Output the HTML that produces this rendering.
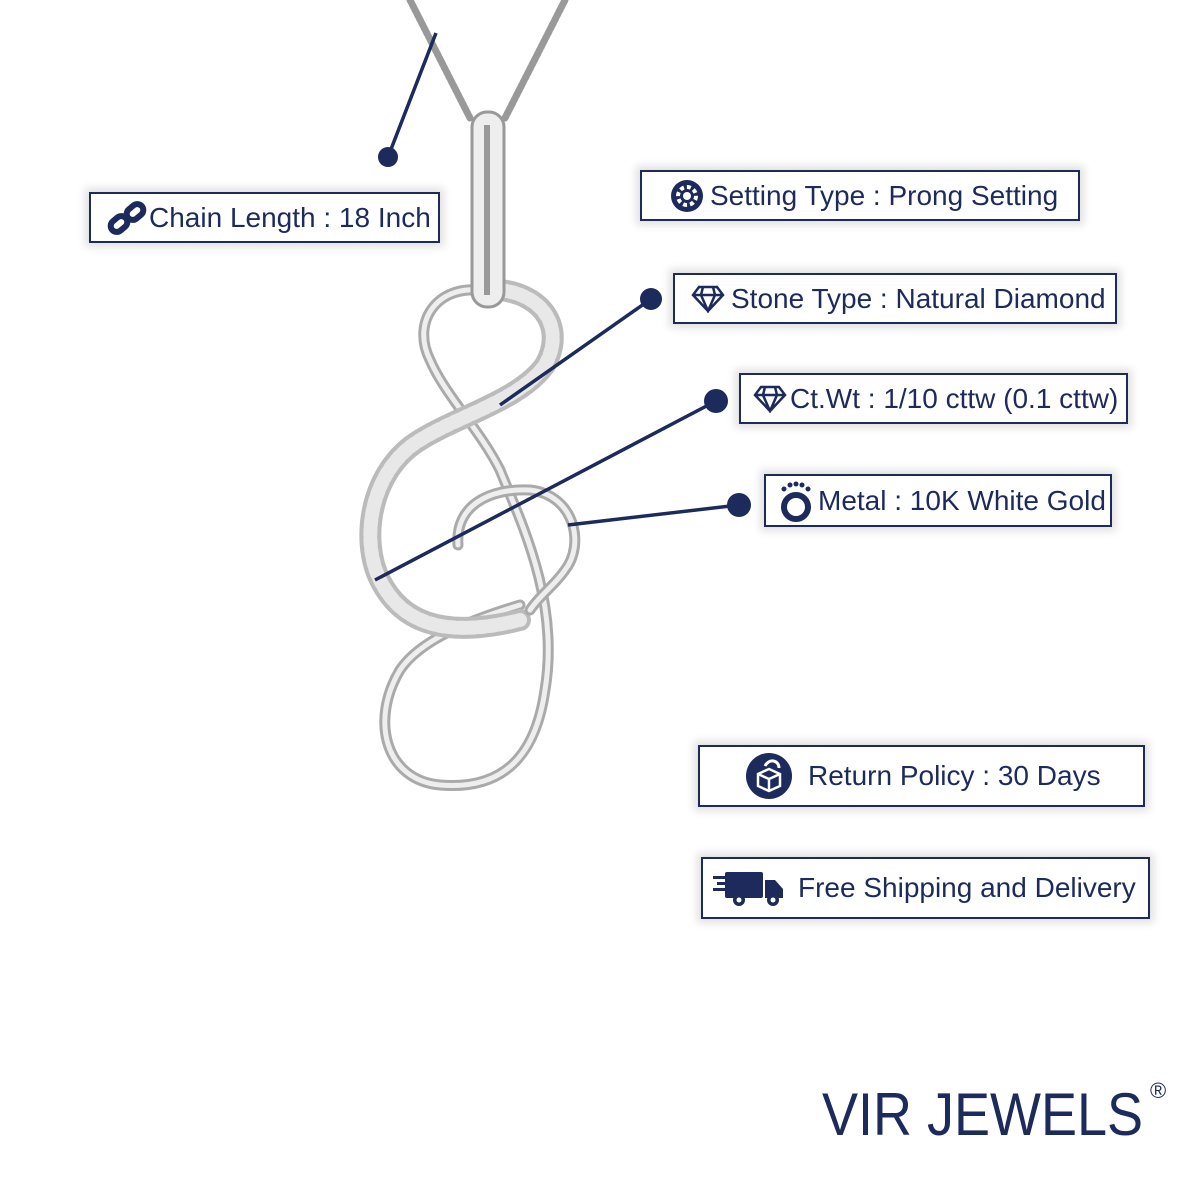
<!DOCTYPE html>
<html><head><meta charset="utf-8"><style>
html,body{margin:0;padding:0;background:#fff}
body{width:1200px;height:1200px;position:relative;overflow:hidden;font-family:"Liberation Sans",sans-serif;color:#1c2a5c}
.b{position:absolute;border:2px solid #1c2a5c;background:#fff;box-shadow:0 0 8px 4px rgba(0,0,0,0.12);box-sizing:border-box;display:flex;align-items:center;font-size:28px;white-space:nowrap}
.b svg{flex:none}
</style></head><body>
<svg width="1200" height="1200" style="position:absolute;left:0;top:0">
<g fill="none" stroke-linecap="round">
<path d="M410 0 L470 118" stroke="#999" stroke-width="7" stroke-dasharray="3 2"/>
<path d="M565 0 L505 118" stroke="#999" stroke-width="7" stroke-dasharray="3 2"/>
<path d="M490 292 C440 280 410 320 430 360 C445 395 480 430 500 470 C520 520 560 600 545 690 C535 760 500 790 440 785 C385 780 370 720 400 670 C420 640 470 620 520 605" stroke="#aaa" stroke-width="11"/>
<path d="M490 292 C440 280 410 320 430 360 C445 395 480 430 500 470 C520 520 560 600 545 690 C535 760 500 790 440 785 C385 780 370 720 400 670 C420 640 470 620 520 605" stroke="#eee" stroke-width="5"/>
<path d="M500 290 C545 295 565 330 545 365 C520 400 460 415 420 440 C370 470 360 540 380 580 C400 620 440 640 520 620" stroke="#bbb" stroke-width="22"/>
<path d="M500 290 C545 295 565 330 545 365 C520 400 460 415 420 440 C370 470 360 540 380 580 C400 620 440 640 520 620" stroke="#e8e8e8" stroke-width="14" stroke-dasharray="6 4"/>
<path d="M458 545 C455 505 490 488 530 490 C575 495 585 545 565 570 C555 585 540 595 530 610" stroke="#aaa" stroke-width="11"/>
<path d="M458 545 C455 505 490 488 530 490 C575 495 585 545 565 570 C555 585 540 595 530 610" stroke="#eee" stroke-width="5"/>
</g>
<rect x="472" y="112" width="32" height="195" rx="15" fill="#eee" stroke="#999" stroke-width="3"/>
<rect x="484" y="125" width="6" height="170" fill="#999"/>
<g stroke="#1c2a5c" stroke-width="3.5" fill="#1c2a5c">
<line x1="388" y1="157" x2="436" y2="33"/><circle cx="388" cy="157" r="10" stroke="none"/>
<line x1="651" y1="299" x2="500" y2="405"/><circle cx="651" cy="299" r="11" stroke="none"/>
<line x1="716" y1="401" x2="375" y2="580"/><circle cx="716" cy="401" r="12" stroke="none"/>
<line x1="739" y1="505" x2="568" y2="525"/><circle cx="739" cy="505" r="12" stroke="none"/>
</g>
</svg>

<div class="b" style="left:89px;top:192px;width:351px;height:51px;padding-left:16px">
<svg width="42" height="34" viewBox="0 0 42 34"><g fill="none" stroke="#1c2a5c" stroke-width="6"><rect x="3" y="17" width="18" height="12" rx="6" transform="rotate(-40 12 23)"/><rect x="19" y="5" width="18" height="12" rx="6" transform="rotate(-40 28 11)"/></g></svg>
<span>Chain Length : 18 Inch</span></div>

<div class="b" style="left:640px;top:170px;width:440px;height:51px;padding-left:28px">
<svg width="34" height="34" viewBox="0 0 34 34"><circle cx="17" cy="17" r="16" fill="#1c2a5c"/><circle cx="17" cy="17" r="9" fill="none" stroke="#fff" stroke-width="4" stroke-dasharray="4 3"/><circle cx="17" cy="17" r="4" fill="#fff"/></svg>
<span style="margin-left:6px">Setting Type : Prong Setting</span></div>

<div class="b" style="left:673px;top:273px;width:444px;height:51px;padding-left:16px">
<svg width="34" height="28" viewBox="0 0 34 28"><path d="M8 2H26L32 10L17 26L2 10Z M2 10H32 M12 2L10 10L17 26L24 10L22 2" fill="none" stroke="#1c2a5c" stroke-width="2.5"/></svg>
<span style="margin-left:6px">Stone Type : Natural Diamond</span></div>

<div class="b" style="left:739px;top:373px;width:389px;height:51px;padding-left:12px">
<svg width="34" height="28" viewBox="0 0 34 28"><path d="M8 2H26L32 10L17 26L2 10Z M2 10H32 M12 2L10 10L17 26L24 10L22 2" fill="none" stroke="#1c2a5c" stroke-width="2.5"/></svg>
<span style="margin-left:3px">Ct.Wt : 1/10 cttw (0.1 cttw)</span></div>

<div class="b" style="left:764px;top:474px;width:348px;height:53px;padding-left:8px">
<svg width="44" height="44" viewBox="0 0 44 44"><circle cx="22" cy="28" r="12" fill="none" stroke="#1c2a5c" stroke-width="6"/><g fill="#1c2a5c"><circle cx="10" cy="10" r="2.5"/><circle cx="16" cy="6" r="2.5"/><circle cx="22" cy="5" r="2.5"/><circle cx="28" cy="6" r="2.5"/><circle cx="34" cy="10" r="2.5"/></g></svg>
<span style="margin-left:0px">Metal : 10K White Gold</span></div>

<div class="b" style="left:698px;top:745px;width:447px;height:62px;padding-left:45px">
<svg width="48" height="48" viewBox="0 0 48 48"><circle cx="24" cy="24" r="23" fill="#1c2a5c"/><path d="M13 22L24 17L35 22V34L24 39L13 34Z M13 22L24 27L35 22 M24 27V39" fill="none" stroke="#fff" stroke-width="2.5"/><path d="M20 14C24 6 34 8 34 16" fill="none" stroke="#fff" stroke-width="3"/></svg>
<span style="margin-left:15px">Return Policy : 30 Days</span></div>

<div class="b" style="left:701px;top:857px;width:449px;height:62px;padding-left:10px">
<svg width="72" height="36" viewBox="0 0 72 36"><g fill="#1c2a5c"><rect x="0" y="6" width="20" height="3"/><rect x="4" y="12" width="16" height="3"/><rect x="0" y="18" width="20" height="3"/><rect x="12" y="2" width="38" height="26" rx="2"/><path d="M52 10H62L70 19V28H52Z"/><circle cx="26" cy="30" r="6"/><circle cx="60" cy="30" r="6"/></g><circle cx="26" cy="30" r="2.5" fill="#fff"/><circle cx="60" cy="30" r="2.5" fill="#fff"/></svg>
<span style="margin-left:13px">Free Shipping and Delivery</span></div>

<div style="position:absolute;left:822px;top:1080px;font-size:60px;letter-spacing:0px;color:#1c2a5c;transform:scaleX(0.9);transform-origin:left">VIR JEWELS</div>
<div style="position:absolute;left:1150px;top:1078px;font-size:22px;color:#1c2a5c">®</div>
</body></html>
